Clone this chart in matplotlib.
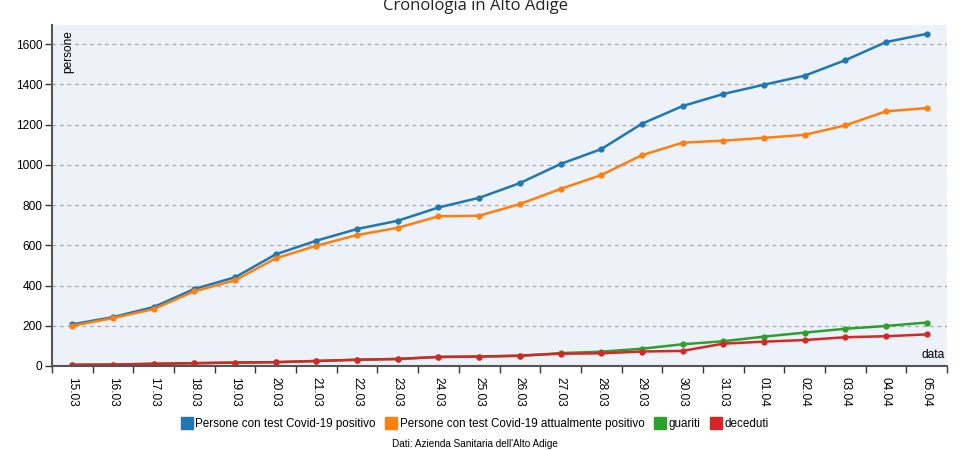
import matplotlib
matplotlib.use("Agg")
import matplotlib.pyplot as plt
from matplotlib.lines import Line2D
import numpy as np

dates = ["15.03", "16.03", "17.03", "18.03", "19.03", "20.03", "21.03", "22.03",
         "23.03", "24.03", "25.03", "26.03", "27.03", "28.03", "29.03", "30.03",
         "31.03", "01.04", "02.04", "03.04", "04.04", "05.04"]
positivi = [207, 243, 293, 383, 441, 555, 623, 681, 722, 788, 836, 909,
            1004, 1078, 1204, 1292, 1352, 1398, 1443, 1520, 1610, 1651]
attualmente = [200, 238, 283, 371, 426, 535, 598, 651, 687, 744, 747, 805,
               880, 949, 1048, 1110, 1120, 1134, 1149, 1196, 1266, 1282]
guariti = [6, 7, 11, 14, 17, 19, 25, 31, 35, 45, 47, 50,
           64, 71, 86, 108, 123, 146, 166, 185, 199, 216]
deceduti = [6, 7, 11, 14, 17, 19, 25, 31, 35, 45, 47, 52,
            61, 63, 72, 75, 111, 121, 129, 143, 148, 157]

series = [
    ("Persone con test Covid-19 positivo", positivi, "#1f77b4"),
    ("Persone con test Covid-19 attualmente positivo", attualmente, "#ff7f0e"),
    ("guariti", guariti, "#2ca02c"),
    ("deceduti", deceduti, "#d62728"),
]

plt.rcParams["font.family"] = ["Liberation Sans", "DejaVu Sans"]

fig = plt.figure(figsize=(9.8, 4.5), dpi=100)
ax = fig.add_axes([52 / 980, 1 - 366 / 450, 895 / 980, 341 / 450])
ax.set_facecolor("#edf1f8")

x = np.arange(len(dates))
for label, vals, color in series:
    ax.plot(x, vals, color=color, lw=1.8, marker="o", ms=3.5, label=label)

ax.set_xlim(-0.5, len(dates) - 0.5)
ax.set_ylim(0, 1695)
ax.set_yticks(range(0, 1601, 200))
ax.tick_params(axis="y", labelsize=8.6, length=5, width=1, color="#333333", pad=2)
for v in range(200, 1601, 200):
    ax.axhline(v, color="#aaaaaa", lw=0.9, ls=(0, (3, 3)), zorder=0)

ax.set_xticks(x)
ax.set_xticklabels(dates, rotation=270, fontsize=8.6)
ax.tick_params(axis="x", which="major", length=0, pad=8)
ax.set_xticks(np.arange(len(dates) + 1) - 0.5, minor=True)
ax.tick_params(axis="x", which="minor", length=5, width=1, color="#333333")

for side in ["top", "right"]:
    ax.spines[side].set_visible(False)
ax.spines["left"].set_color("#555555")
ax.spines["left"].set_linewidth(1.5)
ax.spines["bottom"].set_color("#555555")
ax.spines["bottom"].set_linewidth(1.5)

ax.text(0.012, 0.985, "persone", transform=ax.transAxes, rotation=90,
        ha="left", va="top", fontsize=8.6)
ax.text(0.998, 0.015, "data", transform=ax.transAxes,
        ha="right", va="bottom", fontsize=8.6)

fig.text(0.485, 1 - 10 / 450, "Cronologia in Alto Adige", ha="center", va="baseline",
         fontsize=12, family=["Open Sans", "DejaVu Sans"], color="#222222")

handles = [Line2D([], [], ls="none", marker="s", ms=8, color=c) for _, _, c in series]
fig.legend(handles, [s[0] for s in series], loc="center", ncol=4,
           bbox_to_anchor=(0.485, 1 - 424 / 450), frameon=False, fontsize=8.4,
           handlelength=0.8, handletextpad=0.35, columnspacing=0.9)

fig.text(0.485, 1 - 444 / 450, "Dati: Azienda Sanitaria dell'Alto Adige",
         ha="center", va="center", fontsize=7.2)

fig.savefig("out.png", dpi=100)
